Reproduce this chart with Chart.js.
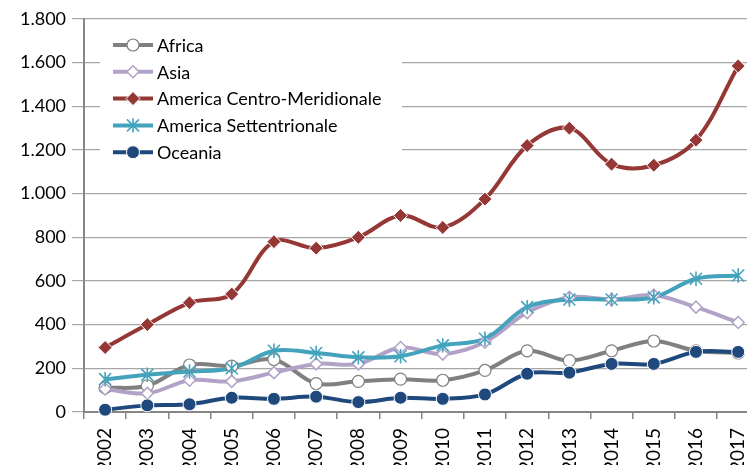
<!DOCTYPE html>
<html>
<head>
<meta charset="utf-8">
<script src="https://cdn.jsdelivr.net/npm/chart.js@4.4.1/dist/chart.umd.min.js"></script>
<style>
  html, body { margin: 0; padding: 0; background: #fff; overflow: hidden; }
  #wrap { width: 770px; height: 481px; }
</style>
</head>
<body>
<div id="wrap"><canvas id="chart"></canvas></div>
<script>
// anni e valori
const years = ["2002", "2003", "2004", "2005", "2006", "2007", "2008", "2009",
  "2010", "2011", "2012", "2013", "2014", "2015", "2016", "2017"];
const africa = [110, 120, 215, 210, 240, 130, 140, 150, 145, 190, 280, 235, 280, 325, 280, 270];
const asia = [105, 85, 145, 140, 180, 220, 220, 295, 265, 320, 455, 525, 515, 535, 480, 410];
const americaCM = [295, 400, 500, 540, 780, 750, 800, 900, 845, 975, 1220, 1300, 1135, 1130, 1245, 1585];
const americaS = [150, 170, 185, 200, 280, 270, 250, 255, 305, 335, 480, 515, 515, 525, 610, 625];
const oceania = [10, 30, 35, 65, 60, 70, 45, 65, 60, 80, 175, 180, 220, 220, 275, 275];
const yTicks = [0, 200, 400, 600, 800, 1000, 1200, 1400, 1600, 1800];

const FONT = "Lato";

function fmt(v) {
  return String(v).replace(/\B(?=(\d{3})+(?!\d))/g, ".");
}

function marker(ctx, style, x, y, r, fill, stroke, lw) {
  ctx.save();
  ctx.fillStyle = fill;
  ctx.strokeStyle = stroke;
  ctx.lineWidth = lw;
  ctx.beginPath();
  if (style === "circle") {
    ctx.arc(x, y, r, 0, Math.PI * 2);
    ctx.fill(); ctx.stroke();
  } else if (style === "rectRot") {
    ctx.moveTo(x, y - r); ctx.lineTo(x + r, y); ctx.lineTo(x, y + r); ctx.lineTo(x - r, y);
    ctx.closePath();
    ctx.fill(); ctx.stroke();
  } else if (style === "star") {
    ctx.moveTo(x - r, y - r); ctx.lineTo(x + r, y + r);
    ctx.moveTo(x + r, y - r); ctx.lineTo(x - r, y + r);
    ctx.moveTo(x, y - r * 1.2); ctx.lineTo(x, y + r * 1.2);
    ctx.stroke();
  }
  ctx.restore();
}

const series = [
  { label: "Africa", data: africa, color: "#808080", style: "circle", fill: "#ffffff", stroke: "#808080", r: 6, lw: 1.2 },
  { label: "Asia", data: asia, color: "#b3a2c7", style: "rectRot", fill: "#ffffff", stroke: "#b3a2c7", r: 6, lw: 1.5 },
  { label: "America Centro-Meridionale", data: americaCM, color: "#953735", style: "rectRot", fill: "#953735", stroke: "#ffffff", r: 7, lw: 1 },
  { label: "America Settentrionale", data: americaS, color: "#44a3bc", style: "star", fill: "#44a3bc", stroke: "#44a3bc", r: 6, lw: 1.6 },
  { label: "Oceania", data: oceania, color: "#1f497d", style: "circle", fill: "#1f497d", stroke: "#ffffff", r: 6.5, lw: 1 }
];

// marker disegnati a mano, sopra le linee
const markerPlugin = {
  id: "markers",
  afterDatasetsDraw(chart) {
    const ctx = chart.ctx;
    ctx.save();
    ctx.beginPath();
    ctx.rect(chart.chartArea.left - 10, 0, chart.width, chart.chartArea.bottom + 8);
    ctx.clip();
    series.forEach((s, i) => {
      const meta = chart.getDatasetMeta(i);
      meta.data.forEach(p => marker(ctx, s.style, p.x, p.y, s.r, s.fill, s.stroke, s.lw));
    });
    ctx.restore();
  }
};

const legendPlugin = {
  id: "innerLegend",
  beforeDatasetsDraw(chart) {
    const ctx = chart.ctx;
    ctx.save();
    ctx.fillStyle = "#ffffff";
    ctx.fillRect(100, 30, 302, 136);
    ctx.font = "18px " + FONT;
    ctx.textBaseline = "middle";
    series.forEach((s, i) => {
      const y = 45 + i * 26.8;
      ctx.strokeStyle = s.color;
      ctx.lineWidth = 4;
      ctx.beginPath();
      ctx.moveTo(113, y); ctx.lineTo(153, y);
      ctx.stroke();
      marker(ctx, s.style, 133, y, s.r, s.fill, s.stroke, s.lw);
      ctx.fillStyle = "#000000";
      ctx.fillText(s.label, 157, y + 1);
    });
    ctx.restore();
  }
};

new Chart(document.getElementById("chart"), {
  type: "line",
  data: {
    labels: years,
    datasets: series.map((s, i) => ({
      label: s.label,
      data: s.data,
      borderColor: s.color,
      borderWidth: 4,
      tension: 0.35,
      pointRadius: 0,
      order: 5 - i
    }))
  },
  plugins: [legendPlugin, markerPlugin],
  options: {
    responsive: true,
    maintainAspectRatio: false,
    animation: false,
    layout: { padding: { left: 14, top: 19, right: 0, bottom: 0 } },
    plugins: {
      legend: { display: false },
      tooltip: { enabled: false }
    },
    scales: {
      x: {
        offset: true,
        grid: { offset: true, drawOnChartArea: false, drawTicks: true, tickLength: 7, color: "#868686", lineWidth: 1.5 },
        border: { color: "#868686", width: 2 },
        ticks: {
          color: "#000",
          font: { family: FONT, size: 19 },
          maxRotation: 90,
          minRotation: 90,
          padding: 9,
          autoSkip: false
        }
      },
      y: {
        min: 0,
        max: 1800,
        afterBuildTicks(axis) { axis.ticks = yTicks.map(v => ({ value: v })); },
        grid: { color: "#a6a6a6", lineWidth: 1.2, tickLength: 12 },
        border: { color: "#868686", width: 2 },
        ticks: {
          color: "#000",
          font: { family: FONT, size: 18 },
          padding: 6,
          callback: v => fmt(v)
        }
      }
    }
  }
});
</script>
</body>
</html>
